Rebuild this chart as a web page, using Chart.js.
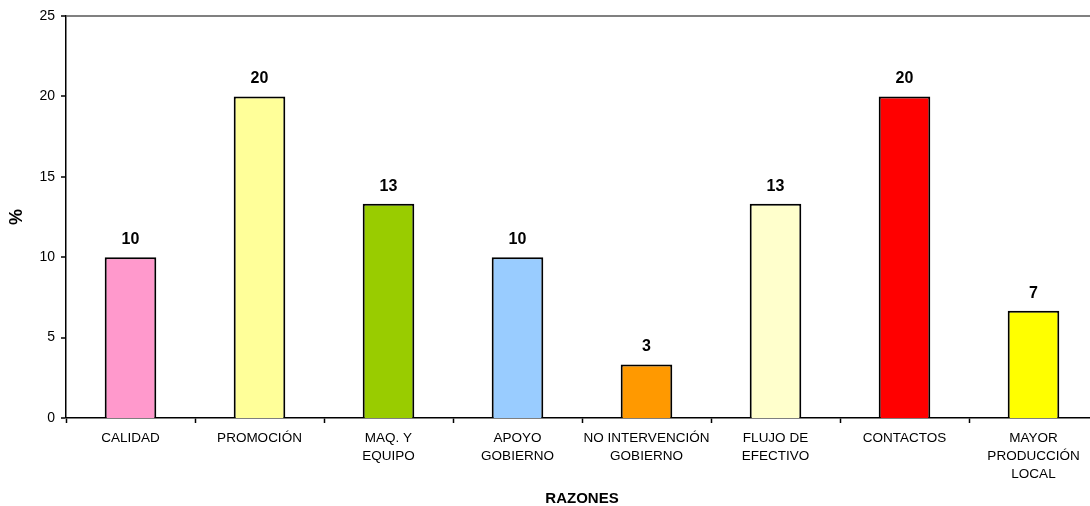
<!DOCTYPE html>
<html>
<head>
<meta charset="utf-8">
<script src="https://cdn.jsdelivr.net/npm/chart.js@4/dist/chart.umd.min.js"></script>
<style>
  html, body { margin: 0; padding: 0; background: #fff; overflow: hidden; }
  #wrap { width: 1090px; height: 506px; overflow: hidden; }
  canvas { display: block; }
</style>
</head>
<body>
<div id="wrap"><canvas id="c" width="1100" height="506"></canvas></div>
<script>
// Reasons given, as a percentage of respondents
const categories = [
  'CALIDAD',
  'PROMOCIÓN',
  ['MAQ. Y', 'EQUIPO'],
  ['APOYO', 'GOBIERNO'],
  ['NO INTERVENCIÓN', 'GOBIERNO'],
  ['FLUJO DE', 'EFECTIVO'],
  'CONTACTOS',
  ['MAYOR', 'PRODUCCIÓN', 'LOCAL']
];
const percentages = [10, 20, 13.33, 10, 3.33, 13.33, 20, 6.67];
const barColors = ['#FF99CC', '#FFFF99', '#99CC00', '#99CCFF', '#FF9900', '#FFFFCC', '#FF0000', '#FFFF00'];
const yTitle = '%';
const xTitle = 'RAZONES';

const FONT = '"Liberation Sans", Arial, Helvetica, sans-serif';

// Bold value printed above each bar
const valueLabels = {
  id: 'valueLabels',
  afterDatasetsDraw(chart) {
    const ctx = chart.ctx;
    const meta = chart.getDatasetMeta(0);
    const data = chart.data.datasets[0].data;
    ctx.save();
    ctx.font = 'bold 16px ' + FONT;
    ctx.fillStyle = '#000';
    ctx.textAlign = 'center';
    ctx.textBaseline = 'alphabetic';
    meta.data.forEach((bar, i) => {
      ctx.fillText(String(Math.round(data[i])), bar.x, bar.y - 13);
    });
    ctx.restore();
  }
};

new Chart(document.getElementById('c'), {
  type: 'bar',
  data: {
    labels: categories,
    datasets: [{
      data: percentages,
      backgroundColor: barColors,
      borderColor: '#000',
      borderWidth: 2,
      barPercentage: 0.4,
      categoryPercentage: 1.0
    }]
  },
  options: {
    responsive: false,
    devicePixelRatio: 1,
    animation: false,
    layout: { padding: { top: 16, right: 2, left: 0, bottom: 0 } },
    plugins: {
      legend: { display: false },
      tooltip: { enabled: false }
    },
    scales: {
      x: {
        afterFit(scale) { scale.height = 88; },
        border: { display: true, color: '#000', width: 1.5 },
        grid: {
          display: true,
          drawOnChartArea: false,
          drawTicks: true,
          tickLength: 5,
          tickColor: '#000',
          tickWidth: 1.5
        },
        ticks: {
          color: '#000',
          font: { family: FONT, size: 13.5, lineHeight: 1.33 },
          maxRotation: 0,
          autoSkip: false,
          padding: 6
        },
        title: {
          display: true,
          text: xTitle,
          color: '#000',
          font: { family: FONT, size: 15, weight: 'bold', lineHeight: 1.0 },
          padding: { top: 0, bottom: 0 }
        }
      },
      y: {
        min: 0,
        max: 25,
        afterFit(scale) { scale.width = 66; },
        border: { display: true, color: '#000', width: 1.5 },
        grid: {
          display: true,
          drawOnChartArea: true,
          drawTicks: true,
          tickLength: 5,
          tickColor: '#000',
          tickWidth: 1.5,
          color: (c) => (c.tick && c.tick.value === 25 ? '#808080' : 'rgba(0,0,0,0)'),
          lineWidth: (c) => (c.tick && c.tick.value === 25 ? 2 : 0)
        },
        ticks: {
          stepSize: 5,
          color: '#000',
          font: { family: FONT, size: 14 },
          padding: 6
        },
        title: {
          display: true,
          text: yTitle,
          color: '#000',
          font: { family: FONT, size: 18, weight: 'bold', lineHeight: 1.2 },
          padding: { top: 6, bottom: 0 }
        }
      }
    }
  },
  plugins: [valueLabels]
});
</script>
</body>
</html>
